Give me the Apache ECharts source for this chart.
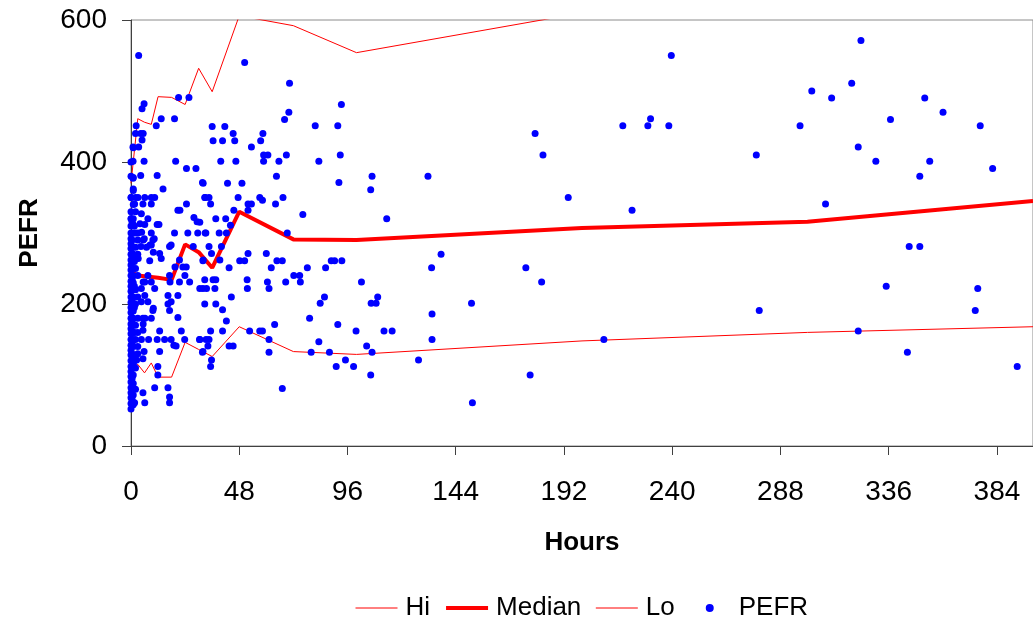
<!DOCTYPE html>
<html><head><meta charset="utf-8">
<script src="https://cdn.jsdelivr.net/npm/echarts@6/dist/echarts.min.js"></script>
<style>html,body{margin:0;padding:0;background:#fff}#c{width:1033px;height:618px}</style>
</head><body><div id="c"></div>
<script>
// Band lines (hours -> value)
const bandHours    = [0, 3, 6, 9, 12, 18, 24, 30, 36, 48, 72, 100, 200, 300, 400];
const hiValues     = [370, 461, 456, 453, 492, 491, 481, 532, 499, 606, 592, 554, 610, 607, 640];
const medianValues = [245, 240, 239, 238, 237, 234, 284, 273, 251, 330, 291, 290, 307, 316, 345];
const loValues     = [110, 115, 103, 117, 97, 97, 146, 136, 126, 168, 133, 129, 148, 160, 168];

// Axis ticks
const xTicks = [0, 48, 96, 144, 192, 240, 288, 336, 384];
const yTicks = [0, 200, 400, 600];

// PEFR observations [hours, PEFR]
const pefrColumn = [
 [0,52],[0,60],[0,68],[0,75],[0,82],[0,90],[0,98],[0,105],[0,112],[0,120],[0,128],[0,135],[0,142],[0,150],[0,158],[0,165],[0,172],[0,180],[0,188],[0,195],[0,202],[0,210],[0,218],[0,225],[0,232],[0,240],[0,248],[0,255],[0,262],[0,270],[0,278],[0,285],[0,292],[0,300],[0,310],[0,320],[0,330],[0,350],[0,380],[0,400],
 [1,58],[1,72],[1,88],[1,100],[1,115],[1,125],[1,140],[1,150],[1,160],[1,170],[1,180],[1,190],[1,200],[1,210],[1,220],[1,230],[1,240],[1,250],[1,260],[1,270],[1,280],[1,300],[1,320],[1,340],[1,360],[1,378],[1,420],
 [0.5,65],[0.5,95],[0.5,130],[0.5,145],[0.5,175],[0.5,205],[0.5,235],[0.5,265],[0.5,290],[0.5,315],
 [2,80],[2,110],[2,150],[2,170],[2,200],[2,220],[2,250],[2,280],[2,300],[2,330],[2,350],[2,440],
 [1.5,120],[1.5,160],[1.5,195],[1.5,225],[1.5,260],[1.5,310],
 [3,140],[3,180],[3,210],[3,240],[3,270],[3,290],[3,160],[3,130],[2.5,121],[3.2,264]
];
const pefrEarly = [
 [3.4,550],[5.8,482],[4.9,475],[2.3,451],[13.4,461],[19.3,461],[21.1,491],[25.7,491],[11.2,451],[4.3,440],[5.4,440],[4.9,431],[0.9,421],[3.4,421],[0.9,401],[5.8,401],[19.8,401],[24.6,391],[28.8,391],[4.3,381],[11.6,381],[0.9,377],[31.7,371],[14.2,362],[1,362],
 [0.1,350],[3.1,350],[6.1,350],[9.0,350],[10.5,350],[32.9,350],[1.6,341],[5.3,341],[9.0,341],[24.6,341],[20.8,332],[21.7,332],[0.1,320],[4.6,327],[7.5,320],[27.9,322],[29.3,316],[0.9,312],[6.1,312],[11.6,312],[12.4,312],[4,313],[4.7,301],
 [19.3,300],[25.2,300],[29.6,300],[32.9,300],[3.1,300],[9.0,300],[9.7,290],[5.9,292],[10.3,292],[5.4,290],[4.4,281],[6.9,280],[17.1,281],[27.6,281],[8.4,283],
 [9.0,283],[17.8,283],[12.7,271],[13.4,264],[9.9,273],[8.3,261],[21.5,262],[24.5,252],[23,252],[19.5,252],[31.9,261],[7.5,240],[17.1,240],[23.9,240],[21.5,231],[26,231],[6.1,231],[9.0,231],[5.4,231],[17.3,231],
 [10.5,222],[31.9,222],[33.5,222],[4.6,222],[30.5,222],[16.4,212],[20.8,212],[17.8,203],[16.4,200],[6.1,212],[4.6,203],[7.5,203],[17.1,191],[9.7,191],[9.9,194],[20.8,181],[5.3,180],[9.0,180],[6.2,180],[5.4,172],
 [5.3,163],[12.7,162],[22.3,162],[4.6,150],[7.8,150],[11.6,150],[14.9,150],[17.8,150],[23.8,150],[30.4,150],[33.3,150],[19,142],[20,141],[5.8,133],[12.7,133],[31.9,133],[5.3,123],[11.9,112],[11.9,100],[10.5,82],[16.4,82],[5.3,75],[17.1,69],[17.1,61],[6.1,61],[1.6,61]
];
const pefrMid = [
 [50.4,540],[70.3,511],[70,470],[68.1,460],[36,450],[41.6,450],[36.4,430],[40.6,430],[45.3,440],[46,430],[58.5,440],[57.5,430],[53.4,421],[58.8,410],[60.7,410],[58.8,401],[68.9,410],[65.6,401],[39.8,401],[46.5,401],[64.5,380],[32,370],[42.8,370],[49.2,370],
 [32.7,350],[34.6,350],[35.3,341],[47.5,350],[57.1,350],[58.3,346],[67.4,350],[64.1,341],[51.9,341],[53.4,341],[51.9,332],[45.6,332],[37.6,320],[42,320],[44.1,311],[30.5,315],[33.2,300],[39.1,300],[42.3,300],[69.3,300],
 [34.6,281],[40.1,281],[35.7,271],[39.4,262],[32,262],[43.5,251],[48.2,261],[50.4,261],[51.9,271],[60,271],[62.2,251],[64.7,261],[67.1,261],[72.2,240],[74.8,240],[32.7,234],[36.4,234],[37.6,234],[51.5,234],[60.5,231],[61.2,222],[68.6,231],[51.6,222],[37.2,222],
 [44.5,210],[32.7,200],[37.6,200],[40.6,192],[42.3,176],[40.6,162],[35.3,162],[52.6,162],[57.1,162],[58.3,162],[63.7,171],[61.2,150],[30.5,150],[34.6,150],[34.1,141],[31.7,132],[43.5,141],[45.3,141],[61.2,132],[35.7,121],[35.3,112],[67.1,81]
];
const pefrLate = [
 [81.7,451],[91.7,451],[93.3,481],[83.3,401],[92.8,410],[92.2,371],[106.9,380],[106.3,361],[131.7,380],[76.2,326],[113.4,320],[179.2,440],[182.7,410],[193.9,350],[218.1,451],[229.2,451],[230.4,461],[222.2,332],
 [88.8,261],[90.3,261],[93.5,261],[78.2,251],[86.3,251],[75.1,231],[102.2,231],[137.5,270],[133.3,251],[175.1,251],[182.1,231],[85.8,210],[83.9,201],[109.4,210],[106.5,201],[108.7,201],[79.2,180],[133.5,186],[151,201],
 [91.7,171],[99.8,162],[112.2,162],[115.8,162],[133.5,150],[209.7,150],[83.3,147],[79.9,132],[88,132],[104.5,141],[106.9,132],[91,112],[95.1,121],[98.7,112],[106.3,100],[127.5,121],[177,100],[151.4,61],
 [239.6,550],[238.5,451],[277.3,410],[296.7,451],[301.9,500],[310.7,490],[308,341],[319.6,511],[323.7,571],[322.5,421],[330.3,401],[336.8,460],[349.8,380],[354.2,401],[352,490],[360.1,470],[376.6,451],[382.1,391],
 [345.1,281],[349.8,281],[334.9,225],[375.5,222],[374.4,191],[278.6,191],[322.5,162],[344.3,132],[393,112]
];
const pefrPoints = pefrColumn.concat(pefrEarly, pefrMid, pefrLate);

const zip = (xs, ys) => xs.map((x, i) => [x, ys[i]]);
const FONT = '"Liberation Sans", Arial, sans-serif';
const hideSym = {color: 'transparent', borderColor: 'transparent', opacity: 0};
// centred dot inside a 42x8 legend box (two empty sub-paths fix the bounding box)
const dotIcon = 'path://M0,4L0.001,4.001L0,4.002Z M42,4L41.999,4.001L42,4.002Z M17,4A4,4,0,1,0,25,4A4,4,0,1,0,17,4Z';

const chart = echarts.init(document.getElementById('c'), null, {renderer: 'canvas'});
chart.setOption({
  animation: false,
  backgroundColor: '#fff',
  grid: {left: 131, top: 20, width: 904, height: 426, show: true, borderColor: '#8c8c8c', borderWidth: 1, backgroundColor: 'transparent'},
  xAxis: {
    type: 'value', min: 0, max: 400, interval: 48,
    name: 'Hours', nameLocation: 'middle', nameGap: 84,
    nameTextStyle: {fontFamily: FONT, fontSize: 26, fontWeight: 'bold', color: '#000'},
    axisLine: {show: true, onZero: false, lineStyle: {color: '#404040', width: 1}},
    axisTick: {show: true, length: 9, inside: false, lineStyle: {color: '#404040'}},
    axisLabel: {show: true, margin: 32, fontFamily: FONT, fontSize: 28, color: '#000', showMaxLabel: false,
      formatter: v => xTicks.indexOf(v) >= 0 ? String(v) : ''},
    splitLine: {show: false}
  },
  yAxis: {
    type: 'value', min: 0, max: 600, interval: 200,
    name: 'PEFR', nameLocation: 'middle', nameGap: 88,
    nameTextStyle: {fontFamily: FONT, fontSize: 26, fontWeight: 'bold', color: '#000'},
    axisLine: {show: true, onZero: false, lineStyle: {color: '#404040', width: 1}},
    axisTick: {show: true, length: 9, lineStyle: {color: '#404040'}},
    axisLabel: {margin: 24, fontFamily: FONT, fontSize: 28, color: '#000', padding: [6, 0, 0, 0],
      formatter: v => yTicks.indexOf(v) >= 0 ? String(v) : ''},
    splitLine: {show: false}
  },
  legend: {
    left: 355, top: 595, padding: 0, itemWidth: 42, itemHeight: 8, itemGap: 14,
    textStyle: {fontFamily: FONT, fontSize: 26, color: '#000', padding: [0, 0, 0, 3]},
    data: [
      {name: 'Hi', itemStyle: hideSym, lineStyle: {color: '#ff0000', width: 1}},
      {name: 'Median', itemStyle: hideSym, lineStyle: {color: '#ff0000', width: 4}},
      {name: 'Lo', itemStyle: hideSym, lineStyle: {color: '#ff0000', width: 1}},
      {name: 'PEFR', icon: dotIcon, itemStyle: {color: '#0000ff'}}
    ]
  },
  series: [
    {name: 'Hi', type: 'line', data: zip(bandHours, hiValues), symbol: 'none', clip: true,
      lineStyle: {color: '#ff0000', width: 1}, itemStyle: {color: '#ff0000'}, z: 2},
    {name: 'Median', type: 'line', data: zip(bandHours, medianValues), symbol: 'none', clip: true,
      lineStyle: {color: '#ff0000', width: 4}, itemStyle: {color: '#ff0000'}, z: 2},
    {name: 'Lo', type: 'line', data: zip(bandHours, loValues), symbol: 'none', clip: true,
      lineStyle: {color: '#ff0000', width: 1}, itemStyle: {color: '#ff0000'}, z: 2},
    {name: 'PEFR', type: 'scatter', data: pefrPoints, symbol: 'circle', symbolSize: 7,
      itemStyle: {color: '#0000ff', opacity: 1}, z: 3}
  ]
});
</script></body></html>
